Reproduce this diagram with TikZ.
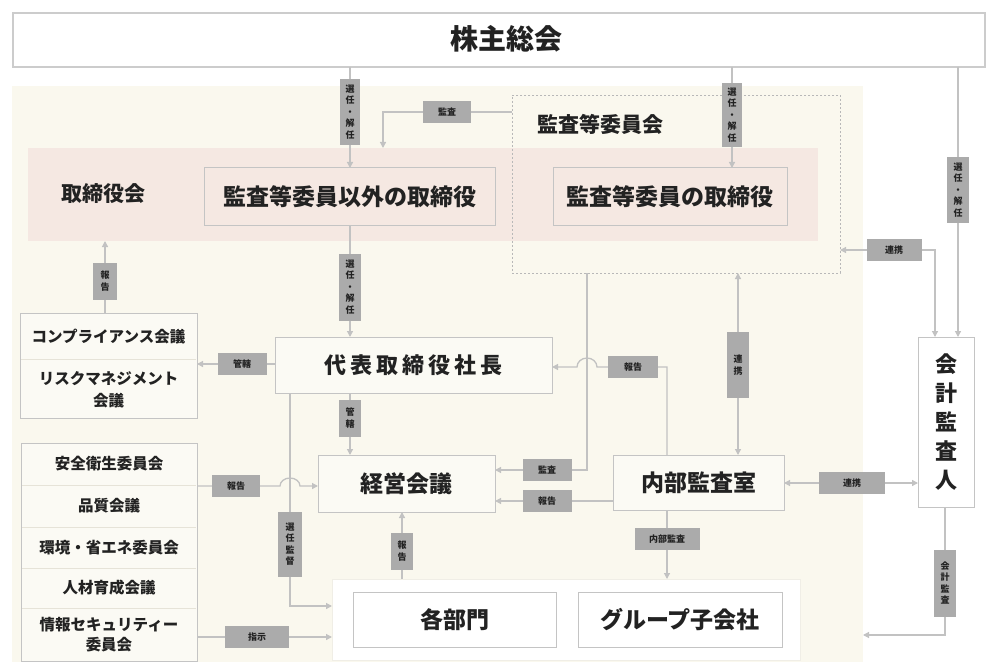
\documentclass[tikz,border=0pt]{standalone}
\usepackage{fontspec}
\setmainfont{Noto Sans CJK JP}
\usetikzlibrary{arrows.meta}
\definecolor{panelc}{HTML}{FAF8EE}
\definecolor{bandc}{HTML}{F5E8E2}
\definecolor{linec}{HTML}{C2C2C2}
\definecolor{tagc}{HTML}{ABABAB}
\definecolor{boxline}{HTML}{C4C4C4}
\definecolor{txt}{HTML}{222222}
\definecolor{boxfill}{HTML}{FBFAF4}
\definecolor{divc}{HTML}{E6E3D8}
\definecolor{dashc}{HTML}{B8B8B8}
\definecolor{botline}{HTML}{F0EEE6}
\definecolor{kabuline}{HTML}{CCCCCC}
\pgfdeclarelayer{back}
\pgfdeclarelayer{mid}
\pgfsetlayers{back,mid,main}
\tikzset{
  plain/.style={inner sep=0pt, outer sep=0pt},
  box/.style={plain, draw=boxline, line width=1pt, text=txt, font=\bfseries\fontsize{23}{26}\selectfont},
  tagh/.style={plain, fill=tagc, minimum height=22, text=txt, font=\bfseries\fontsize{9}{10}\selectfont},
  tagv/.style={plain, fill=tagc, text=txt, align=center, font=\bfseries\fontsize{9}{11.5}\selectfont},
  lbl/.style={plain, text=txt, align=center},
  conn/.style={draw=linec, line width=1.3pt, -{Triangle[width=6pt,length=6pt]}},
  conntwo/.style={draw=linec, line width=1.3pt, {Triangle[width=6pt,length=6pt]}-{Triangle[width=6pt,length=6pt]}},
  divline/.style={draw=divc, line width=0.8pt}
}
\begin{document}
\begin{tikzpicture}[x=1pt,y=-1pt]
\useasboundingbox (0,0) rectangle (986,666);
% backgrounds
\begin{pgfonlayer}{back}
\fill[white] (0,0) rectangle (986,666);
\node[plain, fill=panelc, minimum width=851, minimum height=576] (panel) at (437.5,374) {};
\node[plain, fill=bandc, minimum width=790, minimum height=93] (band) at (423,194.5) {};
\node[plain, draw=dashc, line width=0.9pt, dash pattern=on 2pt off 2pt, minimum width=328, minimum height=178] (dbox) at (676,184) {};
\node[plain, fill=white, draw=botline, minimum width=468, minimum height=81] (bottom) at (566,619.5) {};
\node[plain, fill=white, draw=kabuline, line width=1.2pt, minimum width=972, minimum height=54] (kabu) at (499,40) {};
\end{pgfonlayer}
% text on backgrounds
\node[lbl, font=\bfseries\fontsize{28}{30}\selectfont] (kabut) at (506,39) {株主総会};
\node[lbl, font=\bfseries\fontsize{21}{24}\selectfont] (torit) at (103,194) {取締役会};
\node[lbl, font=\bfseries\fontsize{21}{24}\selectfont] (iinkait) at (600,124) {監査等委員会};
% main boxes
\node[box, fill=bandc, minimum width=291, minimum height=57] (boxA) at (349.5,196.5) {監査等委員以外の取締役};
\node[box, fill=bandc, minimum width=234, minimum height=57] (boxB) at (670,196.5) {監査等委員の取締役};
\node[box, fill=boxfill, minimum width=277, minimum height=56, font=\bfseries\fontsize{22}{26}\selectfont] (shacho) at (413.5,365) {代\kern4pt 表\kern4pt 取\kern4pt 締\kern4pt 役\kern4pt 社\kern4pt 長};
\node[box, fill=boxfill, minimum width=177, minimum height=57] (keiei) at (406.5,483.5) {経営会議};
\node[box, fill=boxfill, minimum width=171, minimum height=55] (naibu) at (698.5,482.5) {内部監査室};
\node[box, fill=white, align=center, minimum width=56, minimum height=170, font=\bfseries\fontsize{22}{29}\selectfont] (kaikei) at (946,422) {会\\計\\監\\査\\人};
\node[box, fill=white, minimum width=203, minimum height=55] (bumon) at (454.5,619.5) {各部門};
\node[box, fill=white, minimum width=204, minimum height=55] (group) at (680,619.5) {グループ子会社};
% committee boxes
\node[box, fill=boxfill, minimum width=177, minimum height=105] (comp) at (108.5,365.5) {};
\draw[divline] (21,359) -- (196,359);
\node[lbl, font=\bfseries\fontsize{15.5}{22}\selectfont] (compa) at (108.5,337) {コンプライアンス会議};
\node[lbl, font=\bfseries\fontsize{15.5}{22}\selectfont] (compb) at (108.5,389.5) {リスクマネジメント\\会議};
\node[box, fill=boxfill, minimum width=176, minimum height=218] (safety) at (109,552) {};
\foreach \yy in {485,527,568,608} {\draw[divline] (22,\yy) -- (196,\yy);}
\node[lbl, font=\bfseries\fontsize{15.5}{21}\selectfont] (safa) at (109,464) {安全衛生委員会};
\node[lbl, font=\bfseries\fontsize{15.5}{21}\selectfont] (safb) at (109,506) {品質会議};
\node[lbl, font=\bfseries\fontsize{15.5}{21}\selectfont] (safc) at (109,547.5) {環境・省エネ委員会};
\node[lbl, font=\bfseries\fontsize{15.5}{21}\selectfont] (safd) at (109,588) {人材育成会議};
\node[lbl, font=\bfseries\fontsize{15.5}{20}\selectfont] (safe) at (109,635) {情報セキュリティー\\委員会};
% tags
\node[tagv, minimum width=20, minimum height=66] (L1) at (350,112) {選\\任\\・\\解\\任};
\node[tagh, minimum width=48] (L2) at (447,112) {監査};
\node[tagv, minimum width=20, minimum height=64] (L3) at (732,115) {選\\任\\・\\解\\任};
\node[tagv, minimum width=22, minimum height=65] (L4) at (958,190) {選\\任\\・\\解\\任};
\node[tagh, minimum width=55] (L5) at (894,250) {連携};
\node[tagv, minimum width=24, minimum height=37] (L6) at (105,281) {報\\告};
\node[tagh, minimum width=49] (L7) at (242,364) {管轄};
\node[tagv, minimum width=22, minimum height=67] (L8) at (350,287) {選\\任\\・\\解\\任};
\node[tagh, minimum width=50] (L9) at (633,367) {報告};
\node[tagv, minimum width=22, minimum height=66] (L10) at (738,365) {連\\携};
\node[tagv, minimum width=22, minimum height=37] (L11) at (350,418) {管\\轄};
\node[tagh, minimum width=49] (L12) at (547,470) {監査};
\node[tagh, minimum width=49] (L13) at (547,501) {報告};
\node[tagh, minimum width=48] (L14) at (236,486) {報告};
\node[tagh, minimum width=66] (L15) at (852,483) {連携};
\node[tagv, minimum width=24, minimum height=65] (L16) at (290,544) {選\\任\\監\\督};
\node[tagv, minimum width=22, minimum height=37] (L17) at (402,551) {報\\告};
\node[tagh, minimum width=65] (L18) at (667,539) {内部監査};
\node[tagh, minimum width=64] (L19) at (257,637) {指示};
\node[tagv, minimum width=22, minimum height=67] (L20) at (945,583) {会\\計\\監\\査};
% connectors
\coordinate (c2) at (383,112);
\coordinate (c5) at (935,250);
\coordinate (c9) at (667,367);
\coordinate (h1) at (587,367);
\coordinate (c12) at (587,470);
\coordinate (h2) at (290,486);
\coordinate (c16) at (290,606);
\coordinate (c20) at (945,635);
\begin{pgfonlayer}{mid}
\draw[conn] (L1 |- kabu.south) -- (L1 |- boxA.north);
\draw[conn] (L2 -| dbox.west) -- (c2) -- (c2 |- band.north);
\draw[conn] (L3 |- kabu.south) -- (L3 |- boxB.north);
\draw[conn] (L4 |- kabu.south) -- (L4 |- kaikei.north);
\draw[conntwo] (L5 -| dbox.east) -- (c5) -- (c5 |- kaikei.north);
\draw[conn] (L6 |- comp.north) -- (L6 |- band.south);
\draw[conn] (shacho.west |- L7) -- (comp.east |- L7);
\draw[conn] (L8 |- boxA.south) -- (L8 |- shacho.north);
\draw[conn] (c9 |- naibu.north) -- (c9) -- ([xshift=10pt]h1) arc[start angle=0, end angle=180, x radius=10pt, y radius=9pt] -- (shacho.east |- c9);
\draw[conntwo] (L10 |- dbox.south) -- (L10 |- naibu.north);
\draw[conn] (L11 |- shacho.south) -- (L11 |- keiei.north);
\draw[conn] (c12 |- dbox.south) -- (c12) -- (keiei.east |- c12);
\draw[conn] (naibu.west |- L13) -- (keiei.east |- L13);
\draw[conn] (safety.east |- h2) -- ([xshift=-10pt]h2) arc[start angle=180, end angle=0, x radius=10pt, y radius=8pt] -- (keiei.west |- h2);
\draw[conntwo] (naibu.east |- L15) -- (kaikei.west |- L15);
\draw[conn] (c16 |- shacho.south) -- (c16) -- (bottom.west |- c16);
\draw[conn] (L17 |- bottom.north) -- (L17 |- keiei.south);
\draw[conn] (L18 |- naibu.south) -- (L18 |- bottom.north);
\draw[conn] (safety.east |- L19) -- (bottom.west |- L19);
\draw[conn] (c20 |- kaikei.south) -- (c20) -- (panel.east |- c20);
\end{pgfonlayer}
\end{tikzpicture}
\end{document}
